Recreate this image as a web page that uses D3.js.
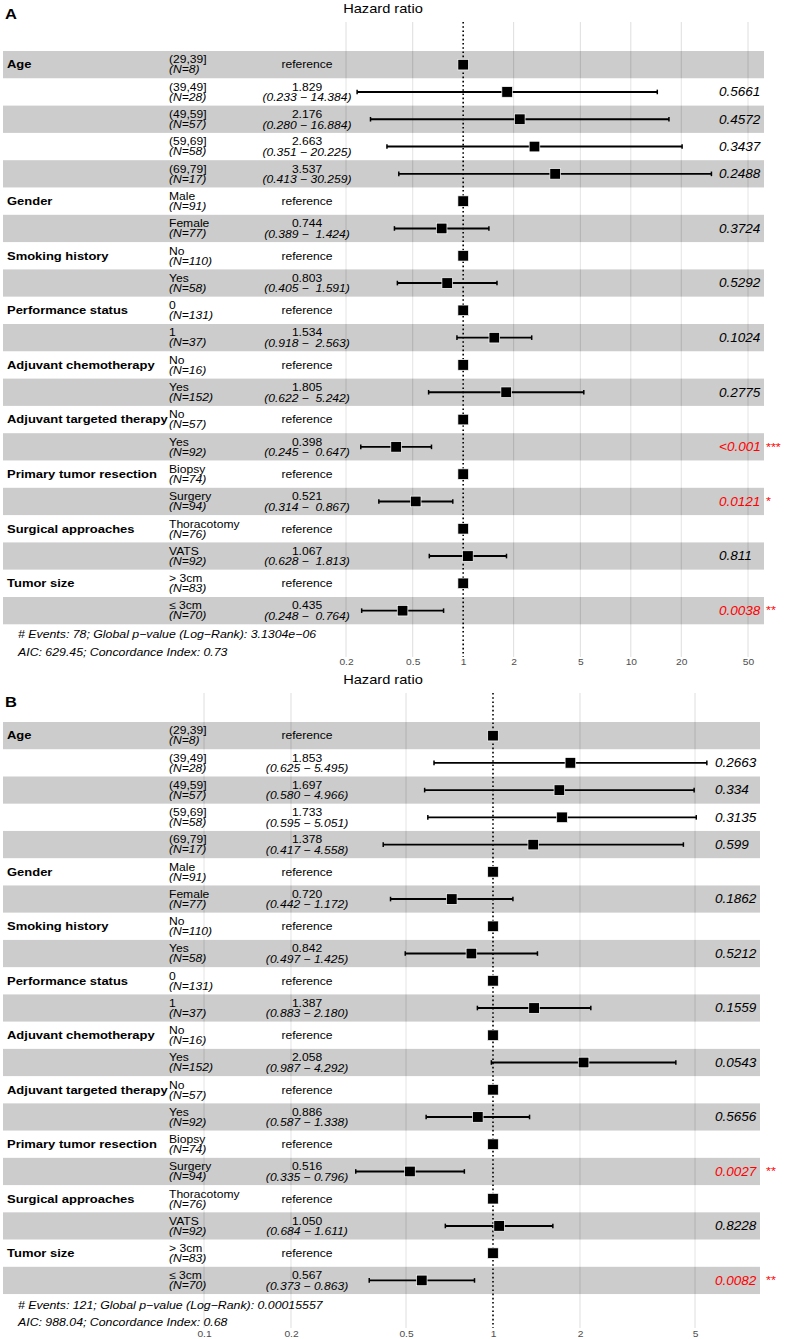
<!DOCTYPE html>
<html>
<head>
<meta charset="utf-8">
<script src="https://cdn.jsdelivr.net/npm/d3@7"></script>
<style>
  body { margin: 0; background: #fff; }
  svg { display: block; font-family: "Liberation Sans", Arial, sans-serif; }
  text { white-space: pre; }
</style>
</head>
<body>
<div id="chart"></div>
<script>
// rows shared by both models
var rowVariable = ["Age", "", "", "", "", "Gender", "", "Smoking history", "", "Performance status", "",
  "Adjuvant chemotherapy", "", "Adjuvant targeted therapy", "", "Primary tumor resection", "",
  "Surgical approaches", "", "Tumor size", ""];
var rowLevel = ["(29,39]", "(39,49]", "(49,59]", "(59,69]", "(69,79]", "Male", "Female", "No", "Yes",
  "0", "1", "No", "Yes", "No", "Yes", "Biopsy", "Surgery", "Thoracotomy", "VATS", "> 3cm", "\u2264 3cm"];
var rowN = [8, 28, 57, 58, 17, 91, 77, 110, 58, 131, 37, 16, 152, 57, 92, 74, 94, 76, 92, 83, 70];

// model A
var hrA   = [null, 1.829, 2.176, 2.663, 3.537, null, 0.744, null, 0.803, null, 1.534, null, 1.805, null, 0.398, null, 0.521, null, 1.067, null, 0.435];
var lowA  = [null, 0.233, 0.280, 0.351, 0.413, null, 0.389, null, 0.405, null, 0.918, null, 0.622, null, 0.245, null, 0.314, null, 0.628, null, 0.248];
var highA = [null, 14.384, 16.884, 20.225, 30.259, null, 1.424, null, 1.591, null, 2.563, null, 5.242, null, 0.647, null, 0.867, null, 1.813, null, 0.764];
var pA    = [null, "0.5661", "0.4572", "0.3437", "0.2488", null, "0.3724", null, "0.5292", null, "0.1024", null, "0.2775", null, "<0.001", null, "0.0121", null, "0.811", null, "0.0038"];
var ticksA = [0.2, 0.5, 1, 2, 5, 10, 20, 50];
var footA = ["# Events: 78; Global p\u2212value (Log\u2212Rank): 3.1304e\u221206", "AIC: 629.45; Concordance Index: 0.73"];

// model B
var hrB   = [null, 1.853, 1.697, 1.733, 1.378, null, 0.720, null, 0.842, null, 1.387, null, 2.058, null, 0.886, null, 0.516, null, 1.050, null, 0.567];
var lowB  = [null, 0.625, 0.580, 0.595, 0.417, null, 0.442, null, 0.497, null, 0.883, null, 0.987, null, 0.587, null, 0.335, null, 0.684, null, 0.373];
var highB = [null, 5.495, 4.966, 5.051, 4.558, null, 1.172, null, 1.425, null, 2.180, null, 4.292, null, 1.338, null, 0.796, null, 1.611, null, 0.863];
var pB    = [null, "0.2663", "0.334", "0.3135", "0.599", null, "0.1862", null, "0.5212", null, "0.1559", null, "0.0543", null, "0.5656", null, "0.0027", null, "0.8228", null, "0.0082"];
var ticksB = [0.1, 0.2, 0.5, 1, 2, 5];
var footB = ["# Events: 121; Global p\u2212value (Log\u2212Rank): 0.00015557", "AIC: 988.04; Concordance Index: 0.68"];

var SX = 1.1; // the figure is a bit stretched sideways

var svg = d3.select("#chart").append("svg")
  .attr("width", 788)
  .attr("height", 1339);

function txt(g, x, y, s, size, opt) {
  opt = opt || {};
  return g.append("text")
    .attr("transform", `translate(${x},${y}) scale(${SX},1)`)
    .attr("dominant-baseline", "central")
    .attr("text-anchor", opt.anchor || "start")
    .attr("font-size", size)
    .attr("font-weight", opt.bold ? "bold" : null)
    .attr("font-style", opt.italic ? "italic" : null)
    .attr("fill", opt.color || "#000")
    .text(s);
}

function stars(p) {
  var v = p.charAt(0) == "<" ? 0.0009 : +p;
  return v < 0.001 ? "***" : v < 0.01 ? "**" : v < 0.05 ? "*" : "";
}

function drawPanel(cfg) {
  var g = svg.append("g");
  var x = d3.scaleLog().domain(cfg.domain).range(cfg.range);
  var n = rowLevel.length;
  var y = function(i) { return cfg.rowTop + cfg.rowH * (i + 0.5); };

  txt(g, 5, cfg.letterY, cfg.letter, 15, {bold: true});
  txt(g, 383, cfg.titleY, "Hazard ratio", 13.3, {anchor: "middle"});

  // gridlines
  g.selectAll(".grid")
    .data(cfg.ticks.filter(function(d) { return d != 1; }))
    .enter().append("line")
    .attr("x1", function(d) { return x(d); })
    .attr("x2", function(d) { return x(d); })
    .attr("y1", cfg.gridTop)
    .attr("y2", cfg.gridBottom)
    .attr("stroke", "#dedede")
    .attr("stroke-width", 1);

  // alternating bands
  g.selectAll(".band")
    .data(rowLevel)
    .enter().append("rect")
    .attr("x", 3)
    .attr("width", cfg.bandRight - 3)
    .attr("y", function(d, i) { return cfg.rowTop + cfg.rowH * i; })
    .attr("height", cfg.rowH)
    .attr("fill", function(d, i) { return i % 2 == 0 ? "rgba(0,0,0,0.2)" : "rgba(255,255,255,0.2)"; });

  // reference line
  g.append("line")
    .attr("x1", x(1)).attr("x2", x(1))
    .attr("y1", cfg.gridTop).attr("y2", cfg.gridBottom)
    .attr("stroke", "#000")
    .attr("stroke-width", 1.6)
    .attr("stroke-dasharray", "1.6,2.6");

  var hiLen = d3.max(cfg.high, function(d) { return d == null ? 0 : d.toFixed(3).length; });

  for (var i = 0; i < n; i++) {
    var cy = y(i);
    if (rowVariable[i]) txt(g, 7, cy, rowVariable[i], 11.8, {bold: true});
    txt(g, 169, cy - 5, rowLevel[i], 11);
    txt(g, 169, cy + 5, "(N=" + rowN[i] + ")", 11, {italic: true});

    if (cfg.hr[i] == null) {
      txt(g, 307, cy, "reference", 11, {anchor: "middle"});
    } else {
      txt(g, 307, cy - 5, cfg.hr[i].toFixed(3), 11, {anchor: "middle"});
      txt(g, 307, cy + 5.5, "(" + cfg.low[i].toFixed(3) + " \u2212 " + cfg.high[i].toFixed(3).padStart(hiLen) + ")", 11,
        {anchor: "middle", italic: true});

      var s = stars(cfg.p[i]);
      var col = s ? "#ff0000" : "#000";
      txt(g, cfg.pX, cy, cfg.p[i], 12.3, {italic: true, color: col});
      if (s) txt(g, 766, cy, s, 11.5, {color: col});

      // confidence interval
      g.append("line")
        .attr("x1", x(cfg.low[i])).attr("x2", x(cfg.high[i]))
        .attr("y1", cy).attr("y2", cy)
        .attr("stroke", "#000").attr("stroke-width", 1.9);
      [cfg.low[i], cfg.high[i]].forEach(function(v) {
        g.append("line")
          .attr("x1", x(v)).attr("x2", x(v))
          .attr("y1", cy - 2.3).attr("y2", cy + 2.3)
          .attr("stroke", "#000").attr("stroke-width", 1.5);
      });
    }
    var hx = x(cfg.hr[i] == null ? 1 : cfg.hr[i]);
    g.append("rect")
      .attr("x", hx - 5.3).attr("y", cy - 5.3)
      .attr("width", 10.6).attr("height", 10.6)
      .attr("fill", "#000")
      .attr("stroke", "#fff").attr("stroke-width", 0.7);
  }

  // footer
  cfg.foot.forEach(function(s, k) {
    txt(g, 18, cfg.footY[k], s, 11.2, {italic: true});
  });

  // axis labels
  var axis = d3.axisBottom(x).tickValues(cfg.ticks).tickSize(0).tickPadding(0)
    .tickFormat(function(d) { return String(d); });
  var ax = g.append("g")
    .attr("transform", `translate(0,${cfg.tickY})`)
    .call(axis);
  ax.select(".domain").remove();
  ax.selectAll("text")
    .attr("y", 0).attr("dy", null)
    .attr("dominant-baseline", "central")
    .attr("transform", `scale(${SX},1)`)
    .attr("font-size", 9.3)
    .attr("font-family", "Liberation Sans, Arial, sans-serif")
    .attr("fill", "#4d4d4d");
}

drawPanel({
  letter: "A", letterY: 14, titleY: 8,
  gridTop: 22, gridBottom: 657, rowTop: 51, rowH: 27.3, bandRight: 764,
  domain: [0.2, 50], range: [346, 748], ticks: ticksA,
  footY: [634, 652], tickY: 662, pX: 719,
  hr: hrA, low: lowA, high: highA, p: pA, foot: footA
});

drawPanel({
  letter: "B", letterY: 702, titleY: 679,
  gridTop: 693, gridBottom: 1328, rowTop: 722, rowH: 27.24, bandRight: 760,
  domain: [0.1, 5], range: [204, 695], ticks: ticksB,
  footY: [1305, 1322], tickY: 1334, pX: 715,
  hr: hrB, low: lowB, high: highB, p: pB, foot: footB
});
</script>
</body>
</html>
